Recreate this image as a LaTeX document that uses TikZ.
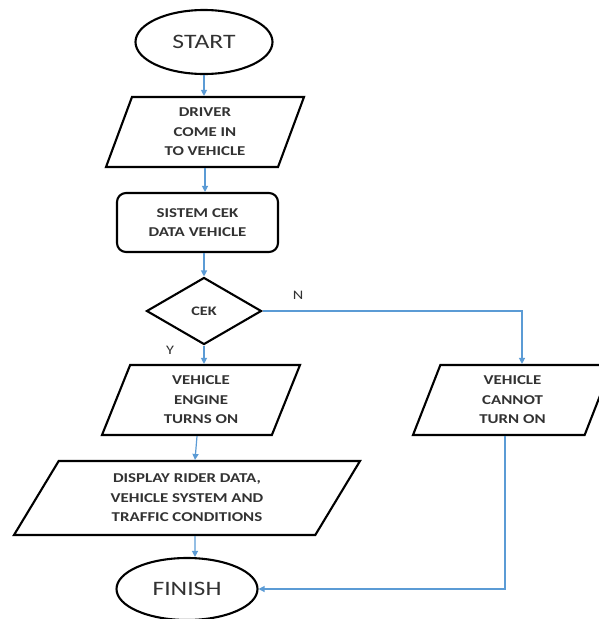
\documentclass[tikz,border=0pt]{standalone}
\usepackage{fontspec}
\setmainfont{Carlito}[FakeStretch=1.25]
\usetikzlibrary{arrows.meta,positioning,shapes.geometric}
\definecolor{flowblue}{RGB}{91,155,213}
\definecolor{inkgray}{RGB}{50,50,50}
\begin{document}
\begin{tikzpicture}[
  x=1pt,y=-1pt,
  term/.style={draw,ellipse,line width=2.1pt,inner sep=0pt,text=inkgray,font=\fontsize{20.5}{24}\selectfont},
  io/.style={draw,trapezium,trapezium left angle=61.5,trapezium right angle=118.5,trapezium stretches body,
    line width=2.1pt,inner sep=0pt,minimum width=198pt,minimum height=70pt,align=center,text=inkgray,
    font=\bfseries\fontsize{13.5}{19.5}\selectfont},
  proc/.style={draw,rounded corners=9pt,line width=2.1pt,minimum width=161pt,minimum height=59pt,inner sep=0pt,
    align=center,text=inkgray,font=\bfseries\fontsize{13.5}{19.5}\selectfont},
  cond/.style={draw,diamond,aspect=1.72,line width=2.1pt,inner sep=0pt,minimum width=115pt,minimum height=67pt,
    text=inkgray,font=\bfseries\fontsize{13}{14}\selectfont},
  arr/.style={-{Triangle[length=6pt,width=6pt]},flowblue,line width=1.2pt},
  yn/.style={text=inkgray,font=\fontsize{13}{14}\selectfont}
]
\useasboundingbox (0,0) rectangle (598,619);

\node[term,minimum width=137pt,minimum height=64pt] (start) at (204,42) {START};
\node[io] (driver) at (205,132) {DRIVER\\COME IN\\TO VEHICLE};
\node[proc] (sistem) at (197.5,222.5) {SISTEM CEK\\DATA VEHICLE};
\node[cond] (cek) at (204,311) {CEK};
\node[io,trapezium left angle=59.6,trapezium right angle=120.4] (engine) at (201,400) {VEHICLE\\ENGINE\\TURNS ON};
\node[io,trapezium left angle=47,trapezium right angle=133,minimum width=346pt,minimum height=74pt] (display) at (187,498) {DISPLAY RIDER DATA,\\VEHICLE SYSTEM AND\\TRAFFIC CONDITIONS};
\node[term,minimum width=141pt,minimum height=62pt] (finish) at (187,589) {FINISH};
\node[io,trapezium left angle=60.3,trapezium right angle=119.7,minimum width=199pt] (cannot) at (512.5,400) {VEHICLE\\CANNOT\\TURN ON};

% main column
\draw[arr] (start.south) -- (start.south |- driver.north);
\draw[arr] (driver.south) -- (driver.south |- sistem.north);
\draw[arr] (cek.north |- sistem.south) -- (cek.north);
\draw[arr] (cek.south) -- (cek.south |- engine.north);
\draw[arr] ([xshift=-4pt]engine.south) -- ([xshift=8pt]display.north);
\draw[arr] ([xshift=8pt]display.south) -- ([xshift=8pt]finish.north);

% no branch
\draw[arr] (cek.east) -| ([xshift=9.5pt]cannot.north);
\draw[arr] ([xshift=-7.5pt]cannot.south) |- (finish.east);

\node[yn] (lblN) at (298,295) {N};
\node[yn] (lblY) at (170,350) {Y};
\end{tikzpicture}
\end{document}
